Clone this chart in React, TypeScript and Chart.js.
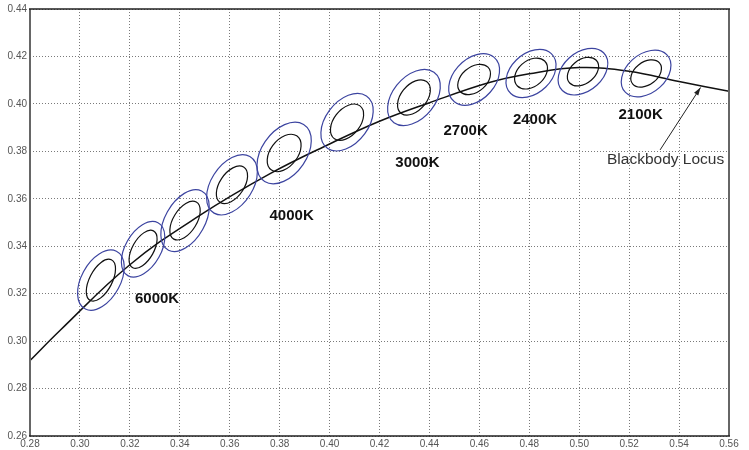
import React, { useEffect, useRef } from "react";
import { Chart, registerables } from "chart.js";

Chart.register(...registerables);

// Axis ticks
const xTickValues = [0.28, 0.3, 0.32, 0.34, 0.36, 0.38, 0.4, 0.42, 0.44, 0.46, 0.48, 0.5, 0.52, 0.54, 0.56];
const yTickValues = [0.26, 0.28, 0.3, 0.32, 0.34, 0.36, 0.38, 0.4, 0.42, 0.44];

// Blackbody locus (CIE x, y)
const locusX = [0.28, 0.292, 0.32, 0.348, 0.376, 0.4, 0.42, 0.44, 0.464, 0.48, 0.5, 0.52, 0.54, 0.56];
const locusY = [0.2918, 0.3045, 0.3322, 0.353, 0.3705, 0.3831, 0.3927, 0.4005, 0.409, 0.4127, 0.4153, 0.4138, 0.4094, 0.4053];

// Ellipse centres (CIE x, y)
const ellipseX = [0.3084, 0.3253, 0.3421, 0.3609, 0.3818, 0.407, 0.4338, 0.4579, 0.4807, 0.5015, 0.5268];
const ellipseY = [0.3257, 0.3387, 0.3508, 0.3659, 0.3793, 0.3923, 0.4027, 0.4103, 0.4128, 0.4136, 0.4128];
// Inner (black) ellipse semi-axes (chromaticity units) and tilt (deg)
const innerA = [0.00955, 0.00881, 0.00902, 0.00881, 0.00881, 0.00861, 0.0084, 0.00758, 0.00758, 0.00717, 0.00697];
const innerB = [0.00455, 0.0043, 0.00471, 0.00492, 0.00553, 0.00533, 0.00525, 0.00512, 0.00533, 0.00492, 0.00471];
const innerAngle = [64, 62, 60, 58, 55, 54, 53, 43, 44, 42, 40];
// Outer (blue) ellipse semi-axes and tilt
const outerA = [0.01369, 0.0127, 0.01414, 0.01393, 0.01434, 0.01352, 0.01332, 0.0123, 0.01168, 0.01148, 0.01148];
const outerB = [0.00783, 0.00717, 0.00799, 0.0084, 0.00902, 0.00861, 0.00861, 0.0084, 0.0082, 0.00799, 0.00799];
const outerAngle = [63, 62, 62, 59, 57, 55, 53, 50, 46, 44, 44];

// Annotations
const cctLabels = ["6000K", "4000K", "3000K", "2700K", "2400K", "2100K"];
const cctLabelX = [0.3309, 0.3848, 0.4352, 0.4545, 0.4823, 0.5246];
const cctLabelY = [0.3178, 0.3529, 0.3751, 0.3887, 0.3933, 0.3954];
const locusLabel = "Blackbody Locus";
const locusLabelX = 0.5346;
const locusLabelY = 0.3764;
const arrowFromX = 0.5324;
const arrowFromY = 0.3806;
const arrowToX = 0.5486;
const arrowToY = 0.4069;

const FONT = "'Liberation Sans', Arial, Helvetica, sans-serif";

const overlayPlugin = {
  id: "overlay",
  afterDatasetsDraw(chart: any) {
    const ctx: CanvasRenderingContext2D = chart.ctx;
    const xs = chart.scales.x;
    const ys = chart.scales.y;
    const drawEllipse = (cx: number, cy: number, a: number, b: number, ang: number, color: string) => {
      const px = xs.getPixelForValue(cx);
      const py = ys.getPixelForValue(cy);
      const sx = (xs.getPixelForValue(cx + 0.01) - px) / 0.01;
      const sy = (ys.getPixelForValue(cy + 0.01) - py) / 0.01;
      ctx.save();
      ctx.beginPath();
      ctx.translate(px, py);
      ctx.scale(sx, sy);
      ctx.rotate((ang * Math.PI) / 180);
      ctx.ellipse(0, 0, a, b, 0, 0, Math.PI * 2);
      ctx.restore();
      ctx.save();
      ctx.strokeStyle = color;
      ctx.lineWidth = 1.2;
      ctx.stroke();
      ctx.restore();
    };
    for (let i = 0; i < ellipseX.length; i++) {
      drawEllipse(ellipseX[i], ellipseY[i], outerA[i], outerB[i], outerAngle[i], "#3c44a0");
      drawEllipse(ellipseX[i], ellipseY[i], innerA[i], innerB[i], innerAngle[i], "#111111");
    }

    // CCT labels
    ctx.save();
    ctx.fillStyle = "#111";
    ctx.font = `bold 15px ${FONT}`;
    ctx.textAlign = "center";
    ctx.textBaseline = "middle";
    for (let i = 0; i < cctLabels.length; i++) {
      ctx.fillText(cctLabels[i], xs.getPixelForValue(cctLabelX[i]), ys.getPixelForValue(cctLabelY[i]));
    }
    ctx.font = `15.5px ${FONT}`;
    ctx.fillStyle = "#333";
    ctx.fillText(locusLabel, xs.getPixelForValue(locusLabelX), ys.getPixelForValue(locusLabelY));

    // Arrow
    const x0 = xs.getPixelForValue(arrowFromX);
    const y0 = ys.getPixelForValue(arrowFromY);
    const x1 = xs.getPixelForValue(arrowToX);
    const y1 = ys.getPixelForValue(arrowToY);
    ctx.strokeStyle = "#222";
    ctx.fillStyle = "#222";
    ctx.lineWidth = 1;
    ctx.beginPath();
    ctx.moveTo(x0, y0);
    ctx.lineTo(x1, y1);
    ctx.stroke();
    const ang = Math.atan2(y1 - y0, x1 - x0);
    const hl = 8;
    const hw = 2.5;
    ctx.beginPath();
    ctx.moveTo(x1, y1);
    ctx.lineTo(x1 - hl * Math.cos(ang) + hw * Math.sin(ang), y1 - hl * Math.sin(ang) - hw * Math.cos(ang));
    ctx.lineTo(x1 - hl * Math.cos(ang) - hw * Math.sin(ang), y1 - hl * Math.sin(ang) + hw * Math.cos(ang));
    ctx.closePath();
    ctx.fill();
    ctx.restore();

    // Frame
    const { left, right, top, bottom } = chart.chartArea;
    ctx.save();
    ctx.strokeStyle = "#666";
    ctx.lineWidth = 2;
    ctx.beginPath();
    ctx.moveTo(left, top);
    ctx.lineTo(left, bottom);
    ctx.moveTo(right, top);
    ctx.lineTo(right, bottom);
    ctx.stroke();
    ctx.strokeStyle = "#222";
    ctx.lineWidth = 1.5;
    ctx.beginPath();
    ctx.moveTo(left - 1, top);
    ctx.lineTo(right + 1, top);
    ctx.moveTo(left - 1, bottom);
    ctx.lineTo(right + 1, bottom);
    ctx.stroke();
    ctx.restore();
  },
};

export default function App() {
  const ref = useRef<HTMLCanvasElement>(null);
  useEffect(() => {
    if (!ref.current) return;
    const chart = new Chart(ref.current, {
      type: "scatter",
      data: {
        datasets: [
          {
            label: "Blackbody Locus",
            data: locusX.map((x, i) => ({ x, y: locusY[i] })),
            showLine: true,
            borderColor: "#111",
            borderWidth: 1.5,
            pointRadius: 0,
            tension: 0.4,
            fill: false,
          } as any,
        ],
      },
      options: {
        responsive: false,
        animation: false,
        devicePixelRatio: 1,
        layout: { padding: { left: 0, top: 6, right: 20, bottom: 0 } },
        plugins: { legend: { display: false }, tooltip: { enabled: false } },
        scales: {
          x: {
            type: "linear",
            min: 0.28,
            max: 0.56,
            afterBuildTicks: (scale: any) => {
              scale.ticks = xTickValues.map((v) => ({ value: v }));
            },
            afterFit: (scale: any) => {
              scale.height = 14;
            },
            border: { display: false, dash: [1, 2] },
            grid: { color: "#7a7a7a", lineWidth: 1, drawTicks: false },
            ticks: {
              padding: 2,
              color: "#555",
              font: { size: 10, family: FONT },
              maxRotation: 0,
              autoSkip: false,
              callback: (v: any) => Number(v).toFixed(2),
            },
          },
          y: {
            type: "linear",
            min: 0.26,
            max: 0.44,
            afterBuildTicks: (scale: any) => {
              scale.ticks = yTickValues.map((v) => ({ value: v }));
            },
            afterFit: (scale: any) => {
              scale.width = 30;
            },
            border: { display: false, dash: [1, 2] },
            grid: { color: "#7a7a7a", lineWidth: 1, drawTicks: false },
            ticks: {
              padding: 3,
              color: "#555",
              font: { size: 10, family: FONT },
              autoSkip: false,
              callback: (v: any) => Number(v).toFixed(2),
            },
          },
        },
      } as any,
      plugins: [overlayPlugin],
    });
    return () => chart.destroy();
  }, []);
  return (
    <div style={{ position: "fixed", left: 0, top: 0, width: 749, height: 450, background: "#fff" }}>
      <canvas ref={ref} width={749} height={450} style={{ display: "block" }} />
    </div>
  );
}
